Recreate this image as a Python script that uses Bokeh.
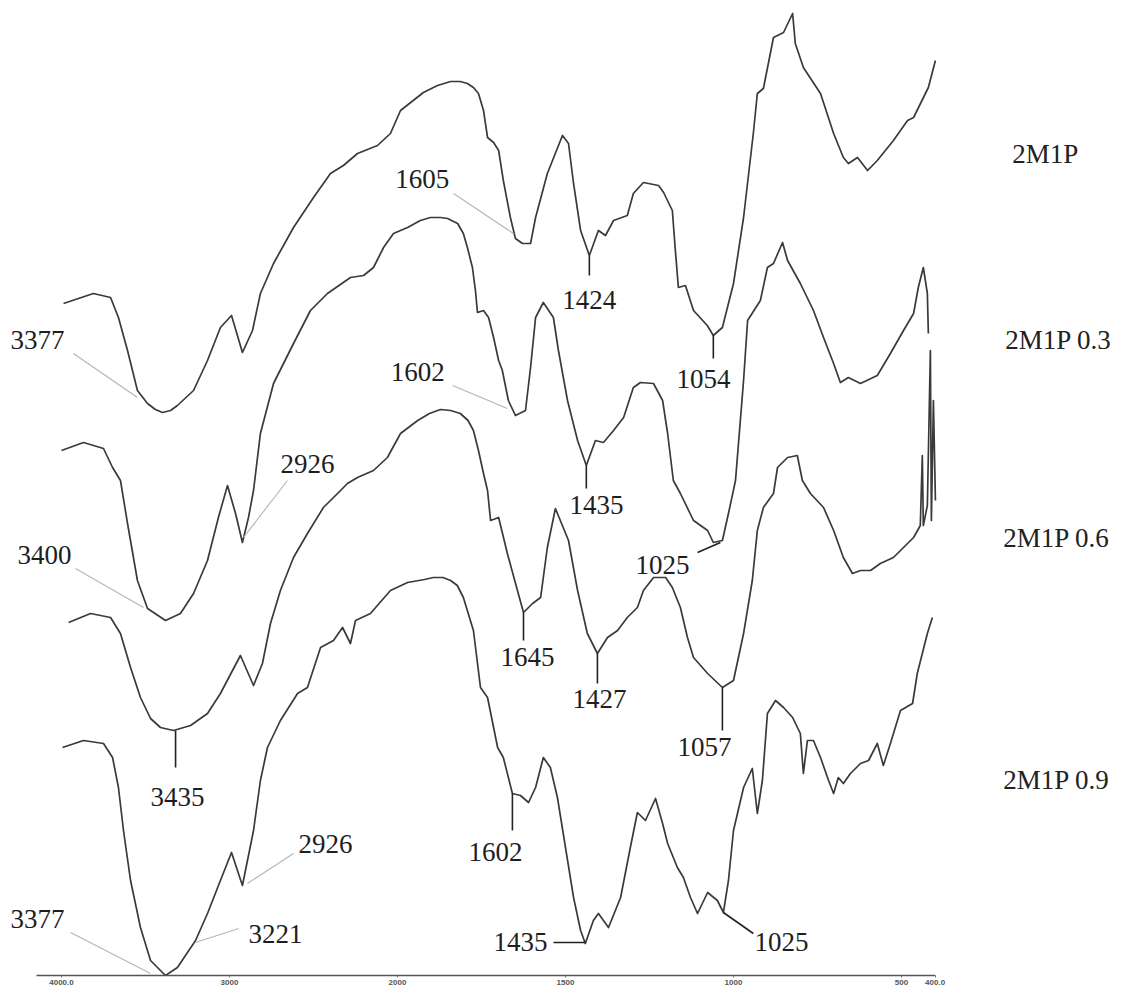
from bokeh.plotting import figure
from bokeh.models import Range1d, FixedTicker
from bokeh.embed import file_html
from bokeh.resources import INLINE
from bokeh.core.properties import value

# ---------------- data (wavenumber in cm-1, transmittance in a.u., stacked) ----------------
wn_2m1p = [3988, 3810, 3708, 3661, 3607, 3548, 3488, 3441, 3399, 3351, 3310, 3214, 3131, 3054, 2988,
           2923, 2863, 2816, 2738, 2619, 2500, 2399, 2322, 2238, 2119, 2042, 1991, 1923, 1881, 1842,
           1813, 1792, 1774, 1759, 1744, 1732, 1714, 1699, 1685, 1664, 1649, 1628, 1604, 1589, 1554,
           1509, 1491, 1476, 1455, 1429, 1402, 1381, 1357, 1316, 1298, 1268, 1223, 1208, 1182, 1173,
           1164, 1143, 1119, 1078, 1060, 1033, 1000, 970, 941, 929, 911, 881, 851, 824, 816, 792, 741,
           702, 673, 658, 631, 601, 572, 524, 482, 464, 420, 399]
t_2m1p = [672, 682, 678, 658, 625, 585, 572, 566, 563, 565, 570, 585, 615, 648, 660,
          623, 645, 682, 712, 748, 778, 802, 810, 822, 830, 842, 865, 883, 890, 894,
          894, 892, 888, 882, 865, 838, 833, 825, 795, 758, 737, 732, 732, 758, 802,
          840, 832, 792, 745, 720, 745, 740, 755, 760, 782, 793, 790, 783, 765, 725,
          688, 690, 665, 650, 640, 648, 692, 758, 842, 882, 887, 938, 943, 962, 932, 908, 882,
          842, 818, 812, 818, 805, 815, 835, 855, 858, 888, 915]

wn_03 = [4000, 3869, 3750, 3696, 3649, 3607, 3548, 3488, 3381, 3292, 3214, 3131, 3066, 3012, 2964,
         2923, 2887, 2857, 2816, 2738, 2619, 2518, 2417, 2280, 2202, 2143, 2083, 2024, 1970, 1932,
         1902, 1872, 1851, 1821, 1804, 1792, 1777, 1768, 1762, 1744, 1729, 1714, 1699, 1688, 1670,
         1649, 1619, 1604, 1589, 1566, 1536, 1521, 1494, 1464, 1438, 1411, 1387, 1357, 1327, 1298,
         1277, 1238, 1211, 1196, 1179, 1158, 1119, 1077, 1060, 1033, 1015, 994, 970, 958, 920, 899,
         881, 854, 839, 801, 762, 732, 702, 682, 658, 622, 572, 533, 494, 464, 450, 435, 423, 420]
t_03 = [525, 533, 527, 508, 495, 452, 395, 367, 355, 362, 382, 415, 458, 490, 462,
        433, 458, 485, 542, 592, 632, 665, 682, 698, 700, 708, 728, 742, 748, 755,
        758, 758, 757, 752, 742, 728, 708, 685, 663, 665, 658, 638, 615, 605, 575,
        560, 565, 608, 658, 673, 658, 625, 575, 535, 510, 535, 533, 545, 558, 588,
        593, 592, 575, 542, 495, 482, 455, 445, 433, 435, 462, 495, 595, 655, 675, 708,
        712, 733, 715, 692, 665, 638, 612, 593, 598, 592, 600, 622, 645, 662, 688, 708, 682, 642]

wn_06 = [3958, 3827, 3708, 3649, 3589, 3530, 3470, 3411, 3333, 3232, 3131, 3054, 2982, 2935, 2857,
         2804, 2756, 2697, 2619, 2536, 2441, 2339, 2298, 2238, 2143, 2060, 1991, 1940, 1905, 1872,
         1842, 1813, 1790, 1774, 1759, 1744, 1732, 1723, 1699, 1673, 1643, 1625, 1598, 1574, 1554,
         1530, 1491, 1464, 1435, 1405, 1375, 1345, 1316, 1286, 1268, 1238, 1202, 1182, 1158, 1137,
         1119, 1077, 1033, 1000, 970, 944, 929, 911, 881, 869, 839, 810, 795, 771, 732, 702, 673,
         646, 622, 592, 563, 524, 482, 464, 444, 438, 435, 423, 414, 411, 405, 399]
t_06 = [353, 362, 358, 342, 308, 278, 257, 248, 245, 250, 262, 282, 305, 320, 290,
        312, 352, 385, 418, 442, 468, 485, 492, 498, 505, 518, 542, 555, 562, 566,
        565, 562, 555, 545, 525, 502, 485, 455, 458, 422, 385, 363, 372, 378, 428,
        467, 435, 385, 342, 322, 338, 345, 358, 368, 385, 398, 398, 388, 368, 338,
        318, 302, 288, 295, 342, 395, 445, 468, 482, 508, 518, 520, 495, 482, 468, 445, 418,
        402, 405, 405, 412, 418, 432, 438, 450, 520, 450, 470, 625, 455, 575, 475]

wn_09 = [3994, 3869, 3750, 3696, 3661, 3631, 3589, 3530, 3470, 3381, 3310, 3202, 3131, 3054, 2988,
         2923, 2893, 2857, 2816, 2774, 2697, 2595, 2536, 2458, 2381, 2327, 2280, 2250, 2161, 2042,
         1970, 1920, 1893, 1865, 1842, 1822, 1804, 1774, 1753, 1732, 1702, 1685, 1658, 1634, 1610,
         1589, 1566, 1545, 1524, 1500, 1476, 1455, 1441, 1417, 1402, 1372, 1336, 1307, 1286, 1262,
         1232, 1211, 1196, 1167, 1149, 1128, 1107, 1077, 1048, 1030, 1015, 1000, 970, 944, 929, 914,
         899, 875, 851, 824, 801, 792, 780, 762, 741, 717, 702, 688, 673, 652, 622, 598, 572, 554,
         533, 503, 467, 453, 423, 408]
t_09 = [228, 235, 232, 218, 188, 145, 95, 48, 15, 0, 8, 35, 62, 95, 123,
        90, 115, 145, 195, 228, 255, 282, 288, 328, 335, 348, 332, 355, 362, 385,
        393, 396, 398, 398, 395, 390, 378, 345, 288, 278, 228, 218, 182, 180, 173,
        188, 218, 208, 178, 128, 78, 45, 32, 55, 62, 48, 78, 128, 163, 155,
        177, 152, 132, 108, 98, 78, 62, 83, 75, 63, 95, 145, 188, 207, 162, 195,
        262, 275, 268, 258, 242, 202, 235, 235, 218, 195, 182, 198, 192, 202, 212, 215, 232, 210,
        232, 265, 272, 302, 342, 358]

sample_names = ["2M1P", "2M1P 0.3", "2M1P 0.6", "2M1P 0.9"]
name_wn = [170, 191, 197, 197]
name_t = [822, 636, 438, 196]

tick_wn = [4000, 3000, 2000, 1500, 1000, 500, 400]
tick_labels = ["4000.0", "3000", "2000", "1500", "1000", "500", "400.0"]

# peak annotations: label, text anchor, leader line (start -> end)
ann_text = ["3377", "1605", "3400", "2926", "1602", "3377", "3221", "2926",
            "1424", "1054", "1435", "1025", "3435", "1645", "1427", "1057", "1602", "1435", "1025"]
ann_wn = [4143, 1926, 4101, 2536, 1940, 4143, 2726, 2429,
          1429, 1089, 1408, 1211, 3310, 1613, 1399, 1086, 1708, 1634, 857]
ann_t = [636, 797, 421, 512, 604, 57, 42, 132,
         676, 597, 471, 411, 179, 319, 277, 229, 124, 34, 34]
lead_wn0 = [3929, 1833, 3917, 2655, 1836, 3946, 2946, 2619,
            1429, 1060, 1438, 1107, 3321, 1625, 1405, 1033, 1658, 1536, 1030]
lead_t0 = [622, 782, 407, 495, 590, 43, 47, 122,
           720, 640, 510, 423, 245, 363, 322, 288, 182, 33, 63]
lead_wn1 = [3548, 1655, 3512, 2917, 1673, 3470, 3202, 2893,
            1429, 1060, 1438, 1039, 3321, 1625, 1405, 1033, 1658, 1440, 941]
lead_t1 = [578, 742, 368, 438, 567, 2, 33, 92,
           700, 617, 487, 433, 208, 335, 292, 245, 145, 33, 42]
N_THIN = 8  # first 8 leaders are thin grey, the rest are dark


# ---------------- axis scale (2x expansion below 2000 cm-1) ----------------
def axis_pos(w):
    return (4000 - w) if w >= 2000 else 2000 + 2 * (2000 - w)


def conv(ws):
    return [axis_pos(w) for w in ws]


p = figure(width=1113, height=987, x_range=Range1d(-315.5, 6262), y_range=Range1d(0, 967),
           output_backend="svg", toolbar_location=None,
           min_border_left=8, min_border_right=0, min_border_top=8, min_border_bottom=12)
p.yaxis.visible = False
p.grid.visible = False
p.outline_line_color = None
p.background_fill_color = "white"

ax = p.xaxis[0]
ax.ticker = FixedTicker(ticks=conv(tick_wn))
ax.major_label_overrides = {axis_pos(w): lab for w, lab in zip(tick_wn, tick_labels)}
ax.bounds = (-150, 5200)
ax.axis_line_color = "#555555"
ax.axis_line_width = 1.5
ax.major_tick_in = 0
ax.major_tick_out = 2
ax.major_tick_line_color = "#777777"
ax.minor_tick_line_color = None
ax.major_label_standoff = 2
ax.major_label_text_font = "Liberation Sans"
ax.major_label_text_font_size = "8px"
ax.major_label_text_font_style = "bold"
ax.major_label_text_color = "#555555"

curve_color = "#3a3a3a"
for wn, t in [(wn_2m1p, t_2m1p), (wn_03, t_03), (wn_06, t_06), (wn_09, t_09)]:
    p.line(conv(wn), t, line_color=curve_color, line_width=1.7, line_join="round")

# leaders
p.segment(conv(lead_wn0[:N_THIN]), lead_t0[:N_THIN], conv(lead_wn1[:N_THIN]), lead_t1[:N_THIN],
          line_color="#b5b5b5", line_width=1.1)
p.segment(conv(lead_wn0[N_THIN:]), lead_t0[N_THIN:], conv(lead_wn1[N_THIN:]), lead_t1[N_THIN:],
          line_color="#222222", line_width=1.6)

p.text(conv(ann_wn), ann_t, text=ann_text, text_font=value("Liberation Serif"),
       text_font_size="27px", text_align="center", text_baseline="alphabetic", text_color="#1e1e1e")

p.text(conv(name_wn), name_t, text=sample_names, text_font=value("Liberation Serif"),
       text_font_size="27px", text_align="left", text_baseline="alphabetic", text_color="#222222")

open("out.html", "w").write(file_html(p, INLINE))
